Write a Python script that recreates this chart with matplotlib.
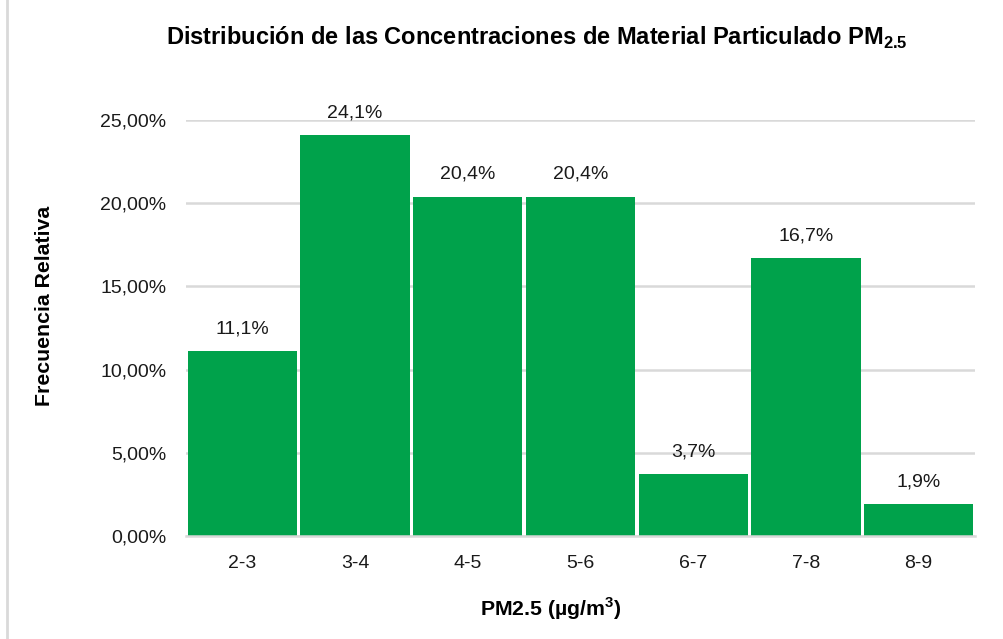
import matplotlib.pyplot as plt
from matplotlib.patches import Rectangle
from matplotlib.ticker import FuncFormatter

plt.rcParams["font.family"] = ["Liberation Sans", "DejaVu Sans"]
plt.rcParams["mathtext.fontset"] = "custom"
plt.rcParams["mathtext.rm"] = "Liberation Sans"
plt.rcParams["mathtext.bf"] = "Liberation Sans:bold"

# relative frequency of PM2.5 concentrations per class
categories = ["2-3", "3-4", "4-5", "5-6", "6-7", "7-8", "8-9"]
frequencies = [0.111, 0.241, 0.204, 0.204, 0.037, 0.167, 0.019]
y_ticks = [0.0, 0.05, 0.10, 0.15, 0.20, 0.25]

BAR_COLOR = "#00A24B"
GRID_COLOR = "#D9D9D9"

fig = plt.figure(figsize=(10.04, 6.39), dpi=100)
ax = fig.add_axes([186 / 1004, 1 - 536 / 639, (975 - 186) / 1004, (536 - 120) / 639])

x = range(len(categories))
bars = ax.bar(x, frequencies, width=0.97, color=BAR_COLOR, zorder=3)

for rect, value in zip(bars, frequencies):
    label = f"{value * 100:.1f}%".replace(".", ",")
    ax.annotate(label, (rect.get_x() + rect.get_width() / 2, rect.get_height()),
                xytext=(0, 10), textcoords="offset points",
                ha="center", va="bottom", fontsize=14, color="#1a1a1a")

ax.set_xlim(-0.5, len(categories) - 0.5)
ax.set_ylim(0, 0.25)
ax.set_xticks(list(x))
ax.set_xticklabels(categories)
ax.set_yticks(y_ticks)
ax.yaxis.set_major_formatter(FuncFormatter(lambda v, _: f"{v * 100:.2f}%".replace(".", ",")))

ax.grid(axis="y", color=GRID_COLOR, linewidth=1.8, zorder=0)
for side in ("top", "right", "left"):
    ax.spines[side].set_visible(False)
ax.spines["bottom"].set_color(GRID_COLOR)
ax.spines["bottom"].set_linewidth(1.8)
ax.spines["bottom"].set_zorder(4)
ax.tick_params(axis="both", length=0, labelsize=14, colors="#1a1a1a")
ax.tick_params(axis="y", pad=14)
ax.tick_params(axis="x", pad=14)

fig.text(537 / 1004, 1 - 38 / 639,
         r"Distribución de las Concentraciones de Material Particulado PM$_{\mathbf{2.5}}$",
         ha="center", va="center", fontsize=17, fontweight="bold")
fig.text(45 / 1004, 1 - 306 / 639, "Frecuencia Relativa", rotation=90,
         ha="center", va="center", fontsize=15.3, fontweight="bold")
fig.text(551 / 1004, 1 - 609 / 639, r"PM2.5 (µg/m$^{\mathbf{3}}$)",
         ha="center", va="center", fontsize=15.3, fontweight="bold")

# chart frame
fig.patches.append(Rectangle((7 / 1004, -0.1), 1.2, 1.1 + 1 - 3 / 639,
                             transform=fig.transFigure, fill=False,
                             edgecolor=GRID_COLOR, linewidth=2))

fig.savefig("out.png", dpi=100)
